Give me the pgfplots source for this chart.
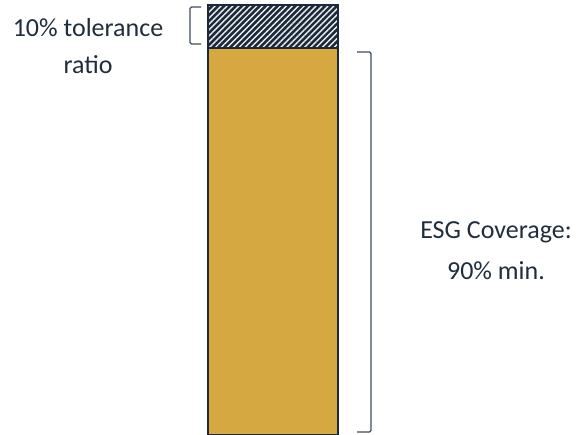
\documentclass[border=0pt]{standalone}
\usepackage{pgfplots}
\pgfplotsset{compat=1.18}
\usepackage{fontspec}
\setmainfont{Carlito}
\usetikzlibrary{patterns.meta}
\definecolor{gold}{HTML}{D5A842}
\definecolor{navy}{HTML}{1B2A3B}
\definecolor{txt}{HTML}{1F2D3D}
\definecolor{brk}{HTML}{3E4C5E}
\begin{document}
\begin{tikzpicture}[x=1pt,y=1pt]
\useasboundingbox (0,0) rectangle (582,435);
\begin{axis}[at={(208pt,0pt)}, anchor=south west, scale only axis,
  width=130pt, height=430pt, hide axis, clip=false,
  xmin=-0.5, xmax=0.5, ymin=0, ymax=100,
  ybar stacked, bar width=130pt]
\addplot[draw=navy, line width=1.3pt, fill=gold] coordinates {(0,90)};
\addplot[draw=navy, line width=1.3pt, fill=navy,
  postaction={pattern={Lines[angle=45,distance=4.2pt,line width=1.4pt]}, pattern color=white!92!navy}]
  coordinates {(0,10)};
\end{axis}
% brackets
\draw[brk, line width=1.2pt, rounded corners=1.5pt] (201,428) -- (190,428) -- (190,391) -- (201,391);
\draw[brk, line width=1.2pt, rounded corners=1.5pt] (357,383) -- (371,383) -- (371,3) -- (357,3);
% texts
\begin{scope}[every node/.style={text=txt, font=\fontsize{26}{31}\selectfont, anchor=base, inner sep=0pt}]
\node at (88,398) {10\% tolerance};
\node at (88,361) {ratio};
\node at (496,196) {ESG Coverage:};
\node at (496,155) {90\% min.};
\end{scope}
\end{tikzpicture}
\end{document}
